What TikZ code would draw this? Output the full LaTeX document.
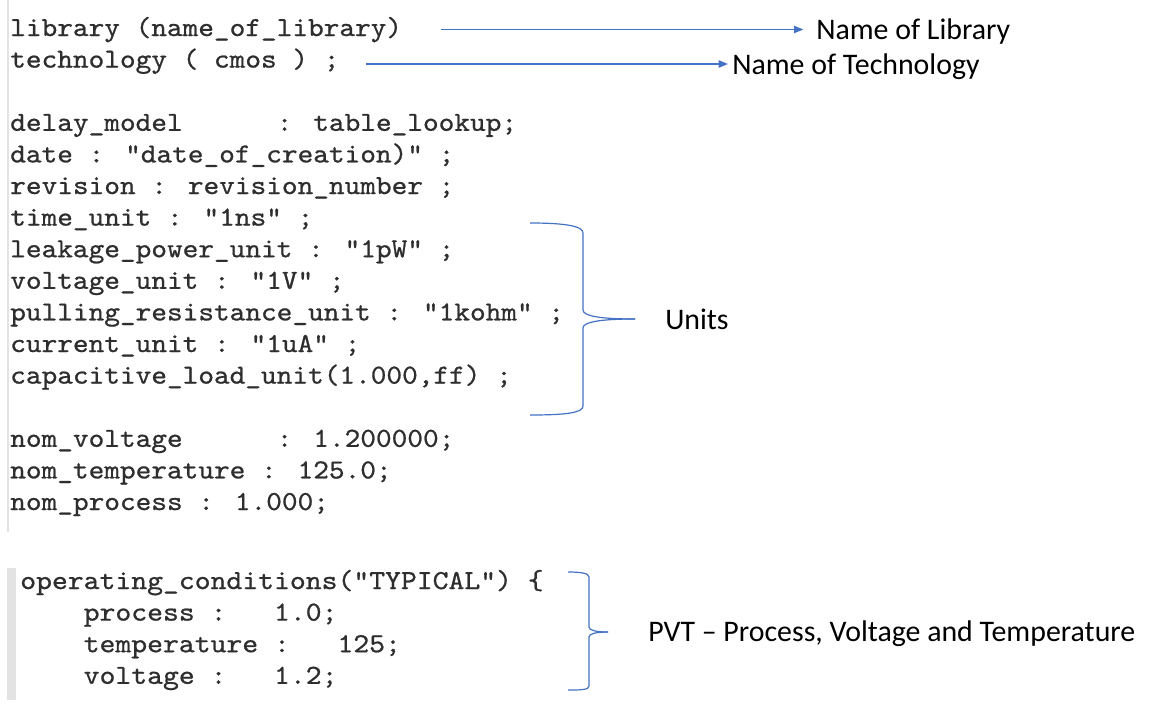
\documentclass[tikz,border=0pt]{standalone}
\usepackage{fontspec}
\setmainfont{Carlito}
\newfontfamily\codefont[FakeStretch=1.087,FakeBold=0.8]{lmmono10-regular.otf}
\newfontfamily\codefontb[FakeStretch=1.10,FakeBold=0.8]{lmmono10-regular.otf}
\usetikzlibrary{arrows.meta}
\definecolor{codecol}{HTML}{2E2E2E}
\definecolor{bluel}{HTML}{4472C4}
\definecolor{barcol}{HTML}{E3E3E3}
\begin{document}
\begin{tikzpicture}[x=0.75pt,y=-0.75pt,
  code/.style={anchor=base west, inner sep=0pt, font=\codefont\fontsize{20.6}{22}\selectfont, text=codecol},
  codeb/.style={anchor=base west, inner sep=0pt, font=\codefontb\fontsize{20.6}{22}\selectfont, text=codecol},
  lbl/.style={anchor=base west, inner sep=0pt, font=\fontsize{22.4}{24}\selectfont, text=black},
  arr/.style={draw=bluel, line width=1pt, -{Triangle[length=7pt,width=5.5pt]}},
  brc/.style={draw=bluel, line width=0.9pt}]
\useasboundingbox (0,0) rectangle (1152,711);
% editor bars
\fill[barcol] (7,0) rectangle (9,532);
\fill[barcol] (7,568) rectangle (16,700);
% first code block
\node[code] (c0) at (10,36.0) {library (name\_of\_library)};
\node[code] (c1) at (10,67.6) {technology ( cmos ) ;};
\node[code] (c3) at (10,130.8) {delay\_model~~~~~~: table\_lookup;};
\node[code] (c4) at (10,162.4) {date : "date\_of\_creation)" ;};
\node[code] (c5) at (10,194.0) {revision : revision\_number ;};
\node[code] (c6) at (10,225.6) {time\_unit : "1ns" ;};
\node[code] (c7) at (10,257.2) {leakage\_power\_unit : "1pW" ;};
\node[code] (c8) at (10,288.8) {voltage\_unit : "1V" ;};
\node[code] (c9) at (10,320.4) {pulling\_resistance\_unit : "1kohm" ;};
\node[code] (c10) at (10,352.0) {current\_unit : "1uA" ;};
\node[code] (c11) at (10,383.6) {capacitive\_load\_unit(1.000,ff) ;};
\node[code] (c13) at (10,446.8) {nom\_voltage~~~~~~: 1.200000;};
\node[code] (c14) at (10,478.4) {nom\_temperature : 125.0;};
\node[code] (c15) at (10,510.0) {nom\_process : 1.000;};
% second code block
\node[codeb] (d0) at (20,589) {operating\_conditions("TYPICAL") \{};
\node[codeb] (d1) at (20,620.6) {~~~~process :~~~1.0;};
\node[codeb] (d2) at (20,652.2) {~~~~temperature :~~~125;};
\node[codeb] (d3) at (20,683.8) {~~~~voltage :~~~1.2;};
% labels
\node[lbl] (nlib) at (816,39.5) {Name of Library};
\node[lbl] (ntech) at (732,74.5) {Name of Technology};
\node[lbl] (units) at (665,329.5) {Units};
\node[lbl] (pvt) at (648,641.5) {PVT – Process, Voltage and Temperature};
% arrows
\coordinate (a1) at (441,29.5);
\coordinate (a2) at (366,64);
\draw[arr, shorten >=9.5pt] (a1) -- (a1 -| nlib.west);
\draw[arr, shorten >=3pt] (a2) -- (a2 -| ntech.west);
% braces
\coordinate (ut) at (635,319);
\draw[brc] (530,223) .. controls (565,223) and (583,226) .. (583,233) -- (583,310) .. controls (583,316) and (600,319) .. (ut);
\draw[brc] (ut) .. controls (600,319) and (583,322) .. (583,328) -- (583,406) .. controls (583,413) and (565,415) .. (530,415);
\coordinate (pt) at (608,632);
\draw[brc] (568,572) .. controls (580,572) and (589,573) .. (589,577) -- (589,627) .. controls (589,630) and (595,632) .. (pt);
\draw[brc] (pt) .. controls (595,632) and (589,634) .. (589,637) -- (589,686) .. controls (589,690) and (580,690) .. (568,690);
\end{tikzpicture}
\end{document}
